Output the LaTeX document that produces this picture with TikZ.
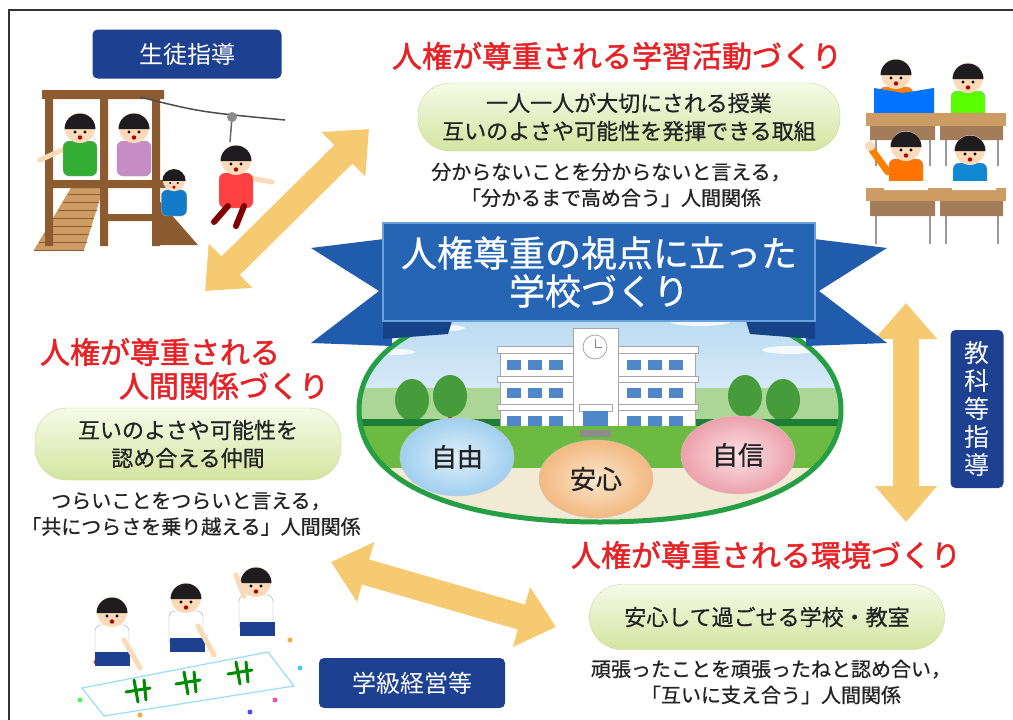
\documentclass[tikz,border=0pt]{standalone}
\usepackage{fontspec}
\newfontfamily\jp{Noto Sans CJK JP}
\newfontfamily\jpmid[FakeBold=0.7]{Noto Sans CJK JP}
\newfontfamily\jpheavy[FakeBold=1.6]{Noto Sans CJK JP}
\usetikzlibrary{arrows.meta,shapes.geometric,positioning}

\definecolor{navy}{RGB}{30,64,145}
\definecolor{titlered}{RGB}{230,34,38}
\definecolor{ink}{RGB}{35,35,35}
\definecolor{pilltop}{RGB}{246,250,232}
\definecolor{pillbot}{RGB}{212,229,160}
\definecolor{pillrim}{RGB}{200,216,150}
\definecolor{arrowgold}{RGB}{245,202,112}
\definecolor{bannerblue}{RGB}{38,100,180}
\definecolor{bannerrim}{RGB}{105,160,222}
\definecolor{tailblue}{RGB}{33,92,172}
\definecolor{foldblue}{RGB}{22,66,135}
\definecolor{yardgreen}{RGB}{38,158,68}
\definecolor{skytop}{RGB}{178,214,240}
\definecolor{skybot}{RGB}{228,241,250}
\definecolor{hedge}{RGB}{172,214,150}
\definecolor{grass}{RGB}{108,186,66}
\definecolor{ground}{RGB}{243,234,214}
\definecolor{leaf}{RGB}{70,155,58}
\definecolor{glass}{RGB}{80,135,200}
\definecolor{wood}{RGB}{140,92,48}
\definecolor{plank}{RGB}{204,156,100}
\definecolor{skin}{RGB}{250,218,185}
\definecolor{hair}{RGB}{30,28,30}

\tikzstyle{tag}=[fill=navy,rounded corners=5pt,text=white,inner sep=0pt,
                 font=\jp\fontsize{24}{29}\selectfont]
\tikzstyle{headline}=[text=titlered,inner sep=0pt,font=\jpheavy\fontsize{30}{36}\selectfont]
\tikzstyle{pill}=[draw=pillrim,top color=pilltop,bottom color=pillbot,
                  rounded corners=32pt,inner sep=0pt,align=center,text=ink,
                  font=\jpmid\fontsize{22}{28}\selectfont]
\tikzstyle{note}=[align=center,text=ink,inner sep=0pt,font=\jpmid\fontsize{20}{26}\selectfont]
\tikzstyle{spot}=[ellipse,draw=white!60!gray,minimum width=114pt,minimum height=78pt,
                  inner sep=0pt,text=ink,font=\jpmid\fontsize{26}{26}\selectfont]
\tikzstyle{twoway}=[line width=26pt,draw=arrowgold,<->,>={Triangle[length=36pt,width=60pt]}]
\tikzstyle{building}=[fill=white,draw=black!35,line width=0.8pt]

% a seated child: head, hair, shirt
\newcommand{\child}[3]{%
  \begin{scope}[shift={#1},scale=#2]
    \filldraw[fill=#3,draw=black!35,rounded corners=6pt] (-17,13) rectangle (17,48);
    \fill[skin] (0,0) circle (15);
    \fill[hair] (-15.5,1) arc (180:360:15.5) -- cycle;
    \fill[black] (-5,4) circle (1.6) (5,4) circle (1.6);
    \fill[red!70!black] (0,9.5) circle (2.2);
  \end{scope}}

\begin{document}
\begin{tikzpicture}[x=1pt,y=-1pt]
\fill[white] (0,0) rectangle (1013,720);
\useasboundingbox (0,0) rectangle (1013,720);
\draw[black!80,line width=1.2pt] (9,720) -- (9,10) -- (1013,10);

% arrows between the four areas
\coordinate (upL) at (205,291);
\coordinate (upR) at (369,129);
\coordinate (sideT) at (906,303);
\coordinate (sideB) at (906,522);
\coordinate (lowL) at (331,562);
\coordinate (lowR) at (556,627);
\draw[twoway] (upL) -- (upR);
\draw[twoway] (sideT) -- (sideB);
\draw[twoway] (lowL) -- (lowR);

% school yard
\begin{scope}
\clip (600,298) .. controls (750,298) and (841,340) .. (841,410)
      .. controls (841,480) and (750,522) .. (600,522)
      .. controls (450,522) and (359,480) .. (359,410)
      .. controls (359,340) and (450,298) .. (600,298) -- cycle;
\fill[top color=skytop,bottom color=skybot] (355,295) rectangle (845,425);
\fill[white,opacity=0.8] (430,328) ellipse (35 and 4) (700,322) ellipse (30 and 4)
  (790,350) ellipse (28 and 4) (395,352) ellipse (20 and 3);
\fill[hedge] (355,388) rectangle (845,426);
\foreach \tx/\ty in {412/400,450/396,745/396,783/400}{
  \fill[wood] (\tx-2,\ty) rectangle (\tx+2,\ty+30);
  \fill[leaf] (\tx,\ty) ellipse (17 and 21);
}
\fill[yardgreen!80!black] (355,419) rectangle (845,426);
% main building
\draw[building] (500,350) rectangle (573,430);
\draw[building] (618,350) rectangle (695,430);
\draw[building] (497,346) rectangle (576,353) (615,346) rectangle (698,353);
\draw[building] (497,376) rectangle (576,382) (615,376) rectangle (698,382);
\draw[building] (497,404) rectangle (576,410) (615,404) rectangle (698,410);
\foreach \wx in {507,528,549,627,648,669}
  \foreach \wy in {360,388,416}
    \fill[glass] (\wx,\wy) rectangle ++(14,10);
\draw[building] (573,328) rectangle (618,430);
\draw[building] (595,347) circle (12);
\draw[black!50,line width=1pt] (595,339) -- (595,347) -- (602,347);
\draw[building] (579,404) rectangle (612,411);
\fill[glass] (583,411) rectangle (608,430);
\fill[grass] (355,426) rectangle (845,470);
\fill[ground] (355,468) rectangle (845,525);
\fill[black!45] (580,430) rectangle (611,437);
\end{scope}
\draw[yardgreen,line width=5pt] (600,298) .. controls (750,298) and (841,340) .. (841,410)
      .. controls (841,480) and (750,522) .. (600,522)
      .. controls (450,522) and (359,480) .. (359,410)
      .. controls (359,340) and (450,298) .. (600,298) -- cycle;

\node[spot,inner color={rgb,255:red,222;green,240;blue,251},outer color={rgb,255:red,160;green,207;blue,238}]
  (jiyu) at (457,457) {自由};
\node[spot,inner color={rgb,255:red,252;green,230;blue,204},outer color={rgb,255:red,242;green,184;blue,128}]
  (anshin) at (596,479) {安心};
\node[spot,inner color={rgb,255:red,252;green,226;blue,230},outer color={rgb,255:red,236;green,160;blue,170}]
  (jishin) at (738,455) {自信};

% ribbon banner
\fill[tailblue] (311,248) -- (392,238) -- (392,346) -- (311,343) -- (379,291) -- cycle;
\fill[tailblue] (887,248) -- (806,238) -- (806,346) -- (887,343) -- (819,291) -- cycle;
\fill[foldblue] (383,321) -- (452,321) -- (448,334) -- (383,339) -- cycle;
\fill[foldblue] (815,321) -- (746,321) -- (750,334) -- (815,339) -- cycle;
\node[fill=bannerblue,draw=bannerrim,line width=1.5pt,minimum width=432pt,minimum height=98pt,
      inner sep=0pt,text=white,align=center,font=\jpmid\fontsize{36}{38}\selectfont]
  (banner) at (599,272) {人権尊重の視点に立った\\学校づくり};

% upper right: learning
\node[headline] (learnhead) at (617,56) {人権が尊重される学習活動づくり};
\node[pill,minimum width=422pt,minimum height=68pt] (learnpill) at (629,117)
  {一人一人が大切にされる授業\\互いのよさや可能性を発揮できる取組};
\node[note] (learnnote) at (611,185)
  {分からないことを分からないと言える，\\「分かるまで高め合う」人間関係};

% left: relations
\node[headline] (relhead) at (160,352) {人権が尊重される};
\node[headline] (relhead2) at (224,386) {人間関係づくり};
\node[pill,minimum width=306pt,minimum height=72pt] (relpill) at (188,444)
  {互いのよさや可能性を\\認め合える仲間};
\node[note] (relnote) at (191,514)
  {つらいことをつらいと言える，\\「共につらさを乗り越える」人間関係};

% lower right: environment
\node[headline] (envhead) at (766,555) {人権が尊重される環境づくり};
\node[pill,minimum width=355pt,minimum height=65pt] (envpill) at (767,617)
  {安心して過ごせる学校・教室};
\node[note] (envnote) at (771,682)
  {頑張ったことを頑張ったねと認め合い，\\「互いに支え合う」人間関係};

% guidance tags
\node[tag,minimum width=189pt,minimum height=49pt] (shidou) at (187,54) {生徒指導};
\node[tag,minimum width=186pt,minimum height=50pt] (gakkyu) at (412,683) {学級経営等};
\node[tag,minimum width=53pt,minimum height=158pt,align=center,
      font=\jp\fontsize{25}{28}\selectfont] (kyouka) at (977,409) {教\\科\\等\\指\\導};

% playground
\fill[plank] (34,250) -- (84,250) -- (104,186) -- (72,186) -- cycle;
\foreach \k in {0,...,7}
  \draw[wood,line width=1pt] (34+\k*4.8,250-\k*8) -- (84+\k*2.5,250-\k*8);
\fill[wood] (155,196) -- (198,245) -- (155,245) -- cycle;
\fill[wood] (45,92) rectangle (53,246) (100,92) rectangle (108,246) (152,92) rectangle (160,246);
\fill[wood] (42,90) rectangle (164,99) (45,180) rectangle (166,188) (100,214) rectangle (160,221);
\draw[black!70,line width=1.5pt] (140,97) .. controls (200,112) .. (285,120);
\draw[black!60,line width=1.5pt] (232,117) -- (230,142);
\fill[black!45] (232,117) circle (5);
\draw[skin,line width=5pt,line cap=round] (62,150) -- (40,160);
\child{(80,128)}{1}{green!60!black!80!white}
\child{(134,128)}{1}{violet!45}
\child{(174,180)}{0.75}{cyan!60!blue}
\draw[skin,line width=5pt,line cap=round] (250,178) -- (272,182);
\child{(236,160)}{1}{red!75}
\draw[red!50!black,line width=6pt,line cap=round] (228,206) -- (214,222) (244,206) -- (236,226);

% classroom
\child{(896,74)}{1}{orange}
\fill[blue!55!cyan] (874,88) -- (903,93) -- (934,88) -- (934,116) -- (903,120) -- (874,116) -- cycle;
\child{(968,78)}{1}{green!65!yellow}
\fill[plank] (866,113) rectangle (1006,126);
\fill[wood!80] (870,126) rectangle (935,140) (940,126) rectangle (1003,140);
\draw[black!40,line width=2.5pt] (876,140) -- (876,166) (930,140) -- (930,166)
  (946,140) -- (946,166) (998,140) -- (998,166);
\draw[orange,line width=7pt,line cap=round] (888,172) -- (872,150);
\fill[skin] (870,146) circle (5);
\child{(906,146)}{1}{orange!90!red}
\child{(970,150)}{1}{cyan!70!blue}
\fill[plank] (866,188) rectangle (1006,201);
\fill[white] (884,181) rectangle (928,190) (952,181) rectangle (996,190);
\fill[wood!80] (870,201) rectangle (935,216) (940,201) rectangle (1003,216);
\draw[black!40,line width=2.5pt] (876,216) -- (876,244) (930,216) -- (930,244)
  (946,216) -- (946,244) (998,216) -- (998,244);

% children drawing on the floor
\filldraw[fill=white,draw=cyan!40,line width=1.2pt] (82,688) -- (268,652) -- (294,686) -- (104,716) -- cycle;
\foreach \gx/\gy in {138/692,188/684,240/674}{
  \draw[green!55!black,line width=3pt,line cap=round] (\gx-12,\gy) -- (\gx+12,\gy-4)
    (\gx-4,\gy-12) -- (\gx,\gy+10) (\gx+6,\gy-12) -- (\gx+8,\gy+8);
}
\foreach \cx/\cy/\cc in {96/662/red,290/640/orange,300/668/cyan,250/712/blue,
                         140/715/orange,80/700/green,275/700/magenta}
  \fill[\cc!70] (\cx,\cy) circle (2.5);
\child{(112,612)}{1}{white}
\fill[navy] (95,652) rectangle (130,666);
\draw[skin,line width=5pt,line cap=round] (124,640) -- (140,668);
\child{(186,598)}{1}{white}
\fill[navy] (170,638) rectangle (205,652);
\draw[skin,line width=5pt,line cap=round] (198,626) -- (214,655);
\child{(256,582)}{1}{white}
\fill[navy] (240,622) rectangle (275,636);
\draw[skin,line width=5pt,line cap=round] (244,596) -- (236,575);
\end{tikzpicture}
\end{document}
